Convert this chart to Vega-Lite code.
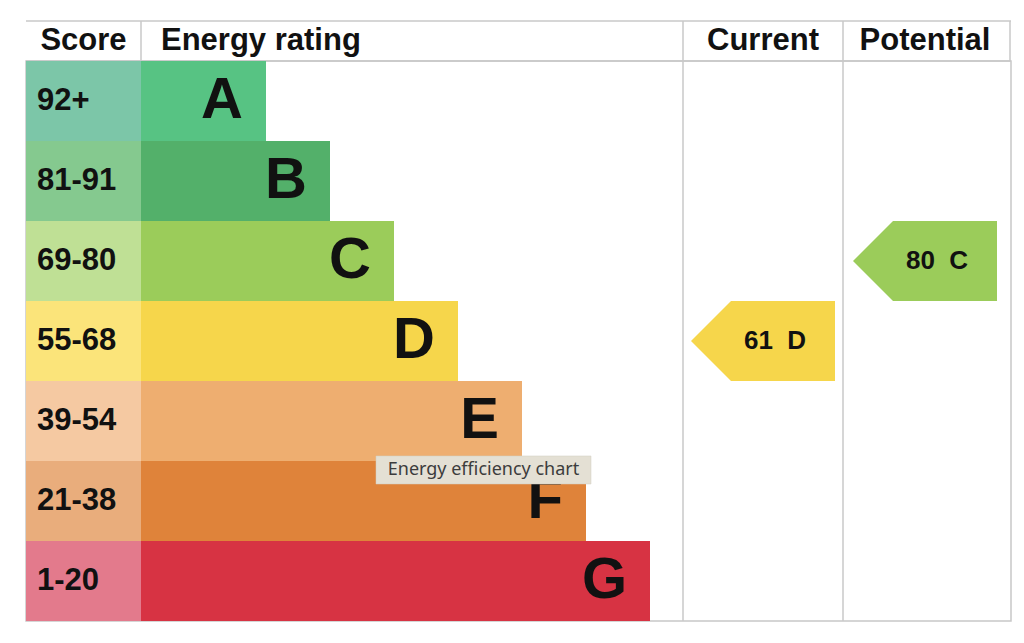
{
  "$schema": "https://vega.github.io/schema/vega-lite/v6.json",
  "background": "white",
  "padding": {"left": 25, "top": 20, "right": 14, "bottom": 23},
  "autosize": {"type": "pad"},
  "bounds": "flush",
  "spacing": 0,
  "datasets": {
    "ratings": [
      {"band": "A", "range": "92+", "barLength": 125},
      {"band": "B", "range": "81-91", "barLength": 189},
      {"band": "C", "range": "69-80", "barLength": 253},
      {"band": "D", "range": "55-68", "barLength": 317},
      {"band": "E", "range": "39-54", "barLength": 381},
      {"band": "F", "range": "21-38", "barLength": 445},
      {"band": "G", "range": "1-20", "barLength": 509}
    ],
    "columns": [
      {"column": "Score", "start": -115, "end": 0, "mid": -57.5},
      {"column": "Energy rating", "start": 0, "end": 542, "mid": 271},
      {"column": "Current", "start": 542, "end": 702, "mid": 622, "score": 61, "band": "D", "label": "61\u00a0\u00a0D"},
      {"column": "Potential", "start": 702, "end": 869, "mid": 784, "score": 80, "band": "C", "label": "80\u00a0\u00a0C"}
    ],
    "hover": [
      {"tip": "Energy efficiency chart", "band": "F", "at": 342.5}
    ]
  },
  "vconcat": [
    {
      "width": 985,
      "height": 40,
      "view": {"stroke": null},
      "data": {"name": "columns"},
      "layer": [
        {
          "data": {"values": [{"edge": 0}, {"edge": 1}]},
          "mark": {"type": "rule", "color": "#c8c8c8", "strokeWidth": 1.5},
          "encoding": {
            "y": {"field": "edge", "type": "quantitative", "scale": {"domain": [0, 1], "nice": false}, "axis": null}
          }
        },
        {
          "transform": [{"filter": "datum.column != 'Score'"}],
          "mark": {"type": "rule", "color": "#c8c8c8", "strokeWidth": 1.5},
          "encoding": {
            "x": {"field": "start", "type": "quantitative", "scale": {"domain": [-115, 870], "nice": false, "zero": false}, "axis": null}
          }
        },
        {
          "transform": [{"filter": "datum.column == 'Potential'"}],
          "mark": {"type": "rule", "color": "#c8c8c8", "strokeWidth": 1.5},
          "encoding": {
            "x": {"field": "end", "type": "quantitative", "axis": null}
          }
        },
        {
          "transform": [{"filter": "datum.column != 'Energy rating'"}],
          "mark": {"type": "text", "align": "center", "baseline": "middle", "font": "Liberation Sans", "fontWeight": "bold", "fontSize": 31, "color": "#111111"},
          "encoding": {
            "x": {"field": "mid", "type": "quantitative", "axis": null},
            "y": {"datum": 0.5, "type": "quantitative", "axis": null},
            "text": {"field": "column"}
          }
        },
        {
          "transform": [{"filter": "datum.column == 'Energy rating'"}],
          "mark": {"type": "text", "align": "left", "baseline": "middle", "dx": 20, "font": "Liberation Sans", "fontWeight": "bold", "fontSize": 31, "color": "#111111"},
          "encoding": {
            "x": {"field": "start", "type": "quantitative", "axis": null},
            "y": {"datum": 0.5, "type": "quantitative", "axis": null},
            "text": {"field": "column"}
          }
        }
      ]
    },
    {
      "width": 985,
      "height": 560,
      "layer": [
        {
          "data": {"name": "columns"},
          "transform": [{"filter": "datum.column == 'Current' || datum.column == 'Potential'"}],
          "mark": {"type": "rule", "color": "#c8c8c8", "strokeWidth": 1.5},
          "encoding": {
            "x": {"field": "start", "type": "quantitative", "scale": {"domain": [-115, 870], "nice": false, "zero": false}, "axis": null}
          }
        },
        {
          "data": {"name": "ratings"},
          "mark": {"type": "rect"},
          "encoding": {
            "x": {"datum": -115, "type": "quantitative", "axis": null},
            "x2": {"datum": 0},
            "y": {"field": "band", "type": "nominal", "scale": {"domain": ["A", "B", "C", "D", "E", "F", "G"], "paddingInner": 0, "paddingOuter": 0}, "axis": null},
            "fill": {
              "field": "band", "type": "nominal", "legend": null,
              "scale": {"domain": ["A", "B", "C", "D", "E", "F", "G"], "range": ["#7cc6a8", "#85c98f", "#bfe095", "#fbe47a", "#f5c9a2", "#e9ad7c", "#e37a8c"]}
            }
          }
        },
        {
          "data": {"name": "ratings"},
          "mark": {"type": "bar", "orient": "horizontal"},
          "encoding": {
            "x": {"field": "barLength", "type": "quantitative", "axis": null},
            "y": {"field": "band", "type": "nominal", "axis": null},
            "color": {
              "field": "band", "type": "nominal", "legend": null,
              "scale": {"domain": ["A", "B", "C", "D", "E", "F", "G"], "range": ["#57c383", "#53b06a", "#9bcc5a", "#f6d64b", "#eeae70", "#df833a", "#d73343"]}
            }
          }
        },
        {
          "data": {"name": "ratings"},
          "mark": {"type": "text", "align": "left", "baseline": "middle", "dx": 11, "font": "Liberation Sans", "fontWeight": "bold", "fontSize": 31, "color": "#111111"},
          "encoding": {
            "x": {"datum": -115, "type": "quantitative", "axis": null},
            "y": {"field": "band", "type": "nominal", "axis": null},
            "text": {"field": "range"}
          }
        },
        {
          "data": {"name": "ratings"},
          "mark": {"type": "text", "align": "right", "baseline": "middle", "dx": -23, "font": "Liberation Sans", "fontWeight": "bold", "fontSize": 58, "color": "#111111"},
          "encoding": {
            "x": {"field": "barLength", "type": "quantitative", "axis": null},
            "y": {"field": "band", "type": "nominal", "axis": null},
            "text": {"field": "band"}
          }
        },
        {
          "data": {"name": "columns"},
          "transform": [{"filter": "isValid(datum.score)"}],
          "mark": {"type": "point", "filled": true, "opacity": 1, "strokeWidth": 0, "size": 20736, "shape": "M-1,0L-0.444,-0.556L1,-0.556L1,0.556L-0.444,0.556Z"},
          "encoding": {
            "x": {"field": "mid", "type": "quantitative", "axis": null},
            "y": {"field": "band", "type": "nominal", "axis": null},
            "color": {"field": "band", "type": "nominal", "legend": null}
          }
        },
        {
          "data": {"name": "columns"},
          "transform": [{"filter": "isValid(datum.score)"}],
          "mark": {"type": "text", "align": "center", "baseline": "middle", "dx": 12, "font": "Liberation Sans", "fontWeight": "bold", "fontSize": 26, "color": "#111111"},
          "encoding": {
            "x": {"field": "mid", "type": "quantitative", "axis": null},
            "y": {"field": "band", "type": "nominal", "axis": null},
            "text": {"field": "label"}
          }
        },
        {
          "data": {"name": "hover"},
          "mark": {"type": "point", "filled": true, "opacity": 1, "color": "#e4e0d4", "stroke": "#d2cec2", "strokeWidth": 0.5, "size": 46225, "shape": "M-1,-0.419L1,-0.419L1,-0.158L-1,-0.158Z"},
          "encoding": {
            "x": {"field": "at", "type": "quantitative", "axis": null},
            "y": {"field": "band", "type": "nominal", "axis": null}
          }
        },
        {
          "data": {"name": "hover"},
          "mark": {"type": "text", "align": "center", "baseline": "middle", "dy": -31, "font": "Noto Sans", "fontSize": 18, "color": "#3c3c3c"},
          "encoding": {
            "x": {"field": "at", "type": "quantitative", "axis": null},
            "y": {"field": "band", "type": "nominal", "axis": null},
            "text": {"field": "tip"}
          }
        }
      ]
    }
  ],
  "config": {
    "view": {"stroke": "#c8c8c8", "strokeWidth": 1.5}
  }
}
